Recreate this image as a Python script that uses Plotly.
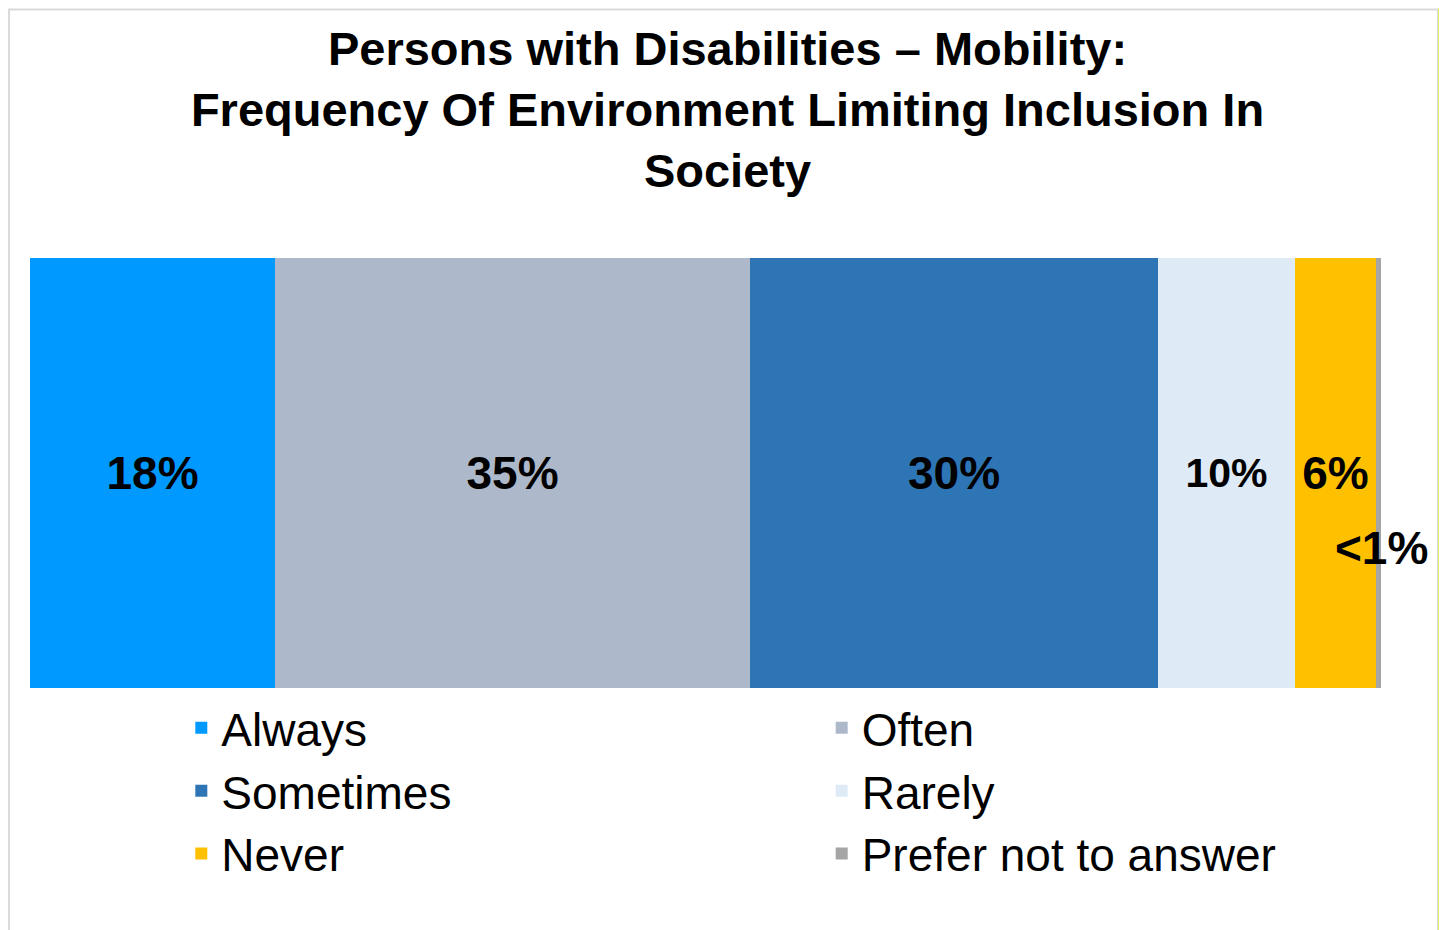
import plotly.graph_objects as go

# dados
categorias = ["Always", "Often", "Sometimes", "Rarely", "Never", "Prefer not to answer"]
valores = [18.1, 35.2, 30.2, 10.1, 6.0, 0.4]
rotulos = ["18%", "35%", "30%", "10%", "6%", "<1%"]
cores = ["#0099FF", "#ADB9CA", "#2E75B6", "#DEEBF7", "#FFC000", "#A5A5A5"]
grupo = "Mobility"

titulo = ("Persons with Disabilities \u2013 Mobility:<br>"
          "Frequency Of Environment Limiting Inclusion In<br>Society")

fonte = "Arial, Liberation Sans, sans-serif"
legenda_de = {"Always": "legend", "Sometimes": "legend", "Never": "legend",
              "Often": "legend2", "Rarely": "legend2", "Prefer not to answer": "legend2"}

fig = go.Figure()
for cat, val, rot, cor in zip(categorias, valores, rotulos, cores):
    texto = rot if cat != "Prefer not to answer" else ""
    tamanho = 41 if cat == "Rarely" else 46
    fig.add_trace(go.Bar(
        x=[val], y=[grupo], orientation="h", name=cat,
        marker=dict(color=cor, line=dict(width=0)),
        text=[texto], textposition="inside", insidetextanchor="middle",
        textangle=0, constraintext="none",
        textfont=dict(family=fonte, size=tamanho, color="black", weight="bold"),
        legend=legenda_de[cat], hoverinfo="skip",
    ))

# rótulo "<1%" fora da barra
fig.add_annotation(x=sum(valores), y=grupo, text="<b>" + rotulos[-1] + "</b>",
                   showarrow=False, xanchor="center", yshift=-75,
                   font=dict(family=fonte, size=46, color="black"))

# moldura
fig.add_shape(type="rect", xref="paper", yref="paper",
              x0=-0.0155, x1=1.0422, y0=-0.6, y1=1.578,
              line=dict(color="#D9D9D9", width=2), layer="below")
fig.add_shape(type="line", xref="paper", yref="paper",
              x0=1.0444, x1=1.0444, y0=-0.6, y1=1.65,
              line=dict(color="#FFFF00", width=5))

estilo_legenda = dict(orientation="v", yanchor="top", y=-0.008, xanchor="left",
                      traceorder="normal",
                      font=dict(family=fonte, size=46, color="black"),
                      bgcolor="rgba(0,0,0,0)", borderwidth=0, tracegroupgap=0)

fig.update_layout(
    width=1439, height=922,
    barmode="stack", bargap=0,
    title=dict(text="<b>" + titulo + "</b>", x=0.5, xanchor="center",
               y=0.938, yanchor="middle", yref="container",
               font=dict(family=fonte, size=47, color="black")),
    margin=dict(l=22, r=66, t=250, b=242),
    xaxis=dict(range=[0, sum(valores)], visible=False, fixedrange=True),
    yaxis=dict(visible=False),
    legend=dict(x=0.112, **estilo_legenda),
    legend2=dict(x=0.586, **estilo_legenda),
    paper_bgcolor="white", plot_bgcolor="white",
    showlegend=True,
)

fig.write_html("out.html")
